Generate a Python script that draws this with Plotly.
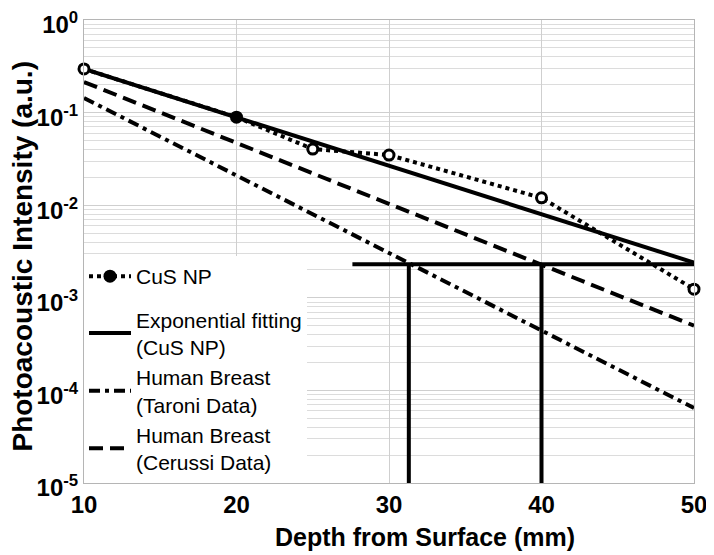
import plotly.graph_objects as go

# ---- data ----
cus_depth = [10, 20, 25, 30, 40, 50]
cus_intensity = [0.296, 0.0893, 0.0404, 0.0348, 0.0120, 0.00124]

fit_depth = [10, 50]
fit_intensity = [0.296, 0.0024]

taroni_depth = [10, 50]
taroni_intensity = [0.144, 6.45e-5]

cerussi_depth = [10, 50]
cerussi_intensity = [0.214, 5.0e-4]

threshold_level = 2.3e-3
threshold_x = [27.6, 50]
crossing_depths = [31.3, 40.0]
axis_floor = 1e-5

x_ticks = [10, 20, 30, 40, 50]
y_tickvals = [1e-5, 1e-4, 1e-3, 1e-2, 1e-1, 1e0]
y_ticktext = ["10<sup>-5</sup>", "10<sup>-4</sup>", "10<sup>-3</sup>",
              "10<sup>-2</sup>", "10<sup>-1</sup>", "10<sup>0</sup>"]

FONT = "Liberation Sans, Arial, sans-serif"

fig = go.Figure()

# threshold / crossing guide lines
fig.add_trace(go.Scatter(x=threshold_x, y=[threshold_level] * len(threshold_x),
                         mode="lines", line=dict(color="black", width=4),
                         showlegend=False, hoverinfo="skip"))
for xd in crossing_depths:
    fig.add_trace(go.Scatter(x=[xd, xd], y=[axis_floor, threshold_level],
                             mode="lines", line=dict(color="black", width=4),
                             showlegend=False, hoverinfo="skip"))

fig.add_trace(go.Scatter(x=cerussi_depth, y=cerussi_intensity, mode="lines",
                         name="Human Breast<br>(Cerussi Data)", legendrank=4,
                         legendgroup="models",
                         line=dict(color="black", width=4, dash="14px,7px")))
fig.add_trace(go.Scatter(x=taroni_depth, y=taroni_intensity, mode="lines",
                         name="Human Breast<br>(Taroni Data)", legendrank=3,
                         legendgroup="models",
                         line=dict(color="black", width=4, dash="11px,5px,4px,5px")))
fig.add_trace(go.Scatter(x=fit_depth, y=fit_intensity, mode="lines",
                         name="Exponential fitting<br>(CuS NP)", legendrank=2,
                         legendgroup="models",
                         line=dict(color="black", width=4)))
fig.add_trace(go.Scatter(x=cus_depth, y=cus_intensity, mode="lines+markers",
                         name="CuS NP", showlegend=False, cliponaxis=False,
                         line=dict(color="black", width=4, dash="4px,4px"),
                         marker=dict(symbol="circle", size=10,
                                     color=["white", "black", "white", "white", "white", "white"],
                                     line=dict(color="black", width=3))))
# legend entry for CuS NP (filled marker as in reference legend)
fig.add_trace(go.Scatter(x=[None], y=[None], mode="lines+markers", name="CuS NP",
                         legendrank=1, legendgroup="cus",
                         line=dict(color="black", width=4, dash="4px,4px"),
                         marker=dict(symbol="circle", size=13, color="black")))

fig.update_layout(
    width=706, height=547,
    margin=dict(l=76, r=20, t=12, b=72, autoexpand=False),
    paper_bgcolor="white", plot_bgcolor="white",
    font=dict(family=FONT, color="black"),
    showlegend=True,
    legend=dict(x=0, y=0, xanchor="left", yanchor="bottom",
                bgcolor="white", borderwidth=0, traceorder="grouped",
                font=dict(family=FONT, size=21, color="black"),
                itemwidth=42, tracegroupgap=13),
    xaxis=dict(range=[10, 50], tickvals=x_ticks, automargin=False,
               ticklabeloverflow="allow",
               tickfont=dict(family=FONT, size=24, weight="bold", color="black"),
               showgrid=True, gridcolor="#cfcfcf", gridwidth=1,
               showline=True, linecolor="#b5b5b5", linewidth=1, mirror=True,
               ticks="", zeroline=False),
    yaxis=dict(type="log", range=[-5, 0], tickvals=y_tickvals, ticktext=y_ticktext,
               automargin=False, ticklabeloverflow="allow", ticklabelshift=5,
               tickfont=dict(family=FONT, size=24, weight="bold", color="black"),
               showgrid=True, gridcolor="#cfcfcf", gridwidth=1,
               minor=dict(showgrid=True, gridcolor="#dcdcdc", gridwidth=1, dtick="D1"),
               showline=True, linecolor="#b5b5b5", linewidth=1, mirror=True,
               ticks="", zeroline=False),
    annotations=[
        dict(text="Depth from Surface (mm)", xref="paper", yref="paper",
             x=0.559, y=-0.117, xanchor="center", yanchor="middle", showarrow=False,
             font=dict(family=FONT, size=25, weight="bold", color="black")),
        dict(text="Photoacoustic Intensity (a.u.)", xref="paper", yref="paper",
             x=-0.101, y=0.49, xanchor="center", yanchor="middle", showarrow=False,
             textangle=-90,
             font=dict(family=FONT, size=28, weight="bold", color="black")),
    ],
)

fig.write_html("out.html")
